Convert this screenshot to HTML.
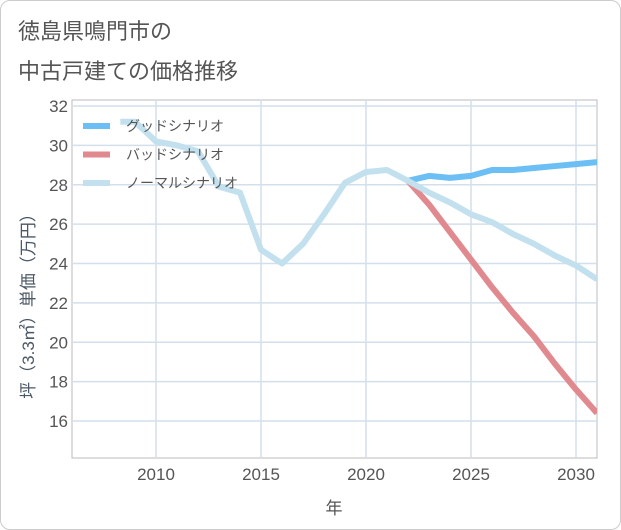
<!DOCTYPE html>
<html><head><meta charset="utf-8"><style>
body{margin:0;background:#fff;font-family:"Liberation Sans","Noto Sans CJK JP",sans-serif;}
#card{position:absolute;left:0;top:0;width:619px;height:528px;border:1px solid #ccc;border-radius:10px;background:#fff;}
#title{position:absolute;left:18px;top:12px;font-size:22px;line-height:40px;color:#555;}
</style></head><body>
<div id="card"></div>
<div id="title">徳島県鳴門市の<br>中古戸建ての価格推移</div>
<svg id="chart" width="621" height="530" style="position:absolute;left:0;top:0"></svg>
<script>
const years=[2008.3,2009,2010,2011,2012,2013,2014,2015,2016,2017,2018,2019,2020,2021,2022,2023,2024,2025,2026,2027,2028,2029,2030,2031];
const normal=[31.2,31.2,30.2,30.0,29.7,27.9,27.6,24.7,24.0,25.0,26.5,28.1,28.65,28.75,28.2,27.6,27.1,26.5,26.1,25.5,25.0,24.4,23.9,23.2];
const futureYears=[2022,2023,2024,2025,2026,2027,2028,2029,2030,2031];
const good=[28.2,28.45,28.35,28.45,28.75,28.75,28.85,28.95,29.05,29.15];
const bad=[28.2,27.0,25.6,24.2,22.8,21.5,20.3,18.9,17.6,16.4];
const yTicks=[16,18,20,22,24,26,28,30,32];
const xTicks=[2010,2015,2020,2025,2030];
const L=72,R=597,T=100,B=458;
const X=y=>156+(y-2010)*21;
const Y=v=>106+(32-v)*19.69;
const svg=document.getElementById('chart');
const NS='http://www.w3.org/2000/svg';
function mk(t,a){const e=document.createElementNS(NS,t);for(const k in a)e.setAttribute(k,a[k]);svg.appendChild(e);return e;}
let bg=mk('rect',{x:L,y:T,width:R-L,height:B-T,fill:'#fff',stroke:'#bbb'});


yTicks.forEach(v=>{
 let g=mk('line',{x1:L,x2:R,y1:Y(v),y2:Y(v),stroke:'#d3dfea','stroke-width':1.5});
 
 
 let t=mk('text',{x:L-4,y:Y(v)+6,'text-anchor':'end','font-size':17,fill:'#555'});
 t.textContent=v;
 
 
});
xTicks.forEach(v=>{
 let g=mk('line',{x1:X(v),x2:X(v),y1:T,y2:B,stroke:'#d3dfea','stroke-width':1.5});
 
 
 let t=mk('text',{x:X(v),y:B+22,'text-anchor':'middle','font-size':17,fill:'#555'});
 t.textContent=v;
 
 
});
const clip=mk('clipPath',{id:'cp'});
const cr=document.createElementNS(NS,'rect');cr.setAttribute('x',L);cr.setAttribute('y',T);cr.setAttribute('width',R-L);cr.setAttribute('height',B-T);clip.appendChild(cr);
function line(xs,vs,color,name){
 let p=mk('polyline',{points:xs.map((x,i)=>X(x)+','+Y(vs[i])).join(' '),fill:'none',stroke:color,'stroke-width':6,'stroke-linejoin':'round','clip-path':'url(#cp)'});
 
 
}
line(futureYears,good,'#6cbff5','good-scenario-line');
line(futureYears,bad,'#e08a8f','bad-scenario-line');
line(years,normal,'#c2e0ee','normal-scenario-line');
const leg=[['グッドシナリオ','#6cbff5'],['バッドシナリオ','#e08a8f'],['ノーマルシナリオ','#c2e0ee']];
leg.forEach((l,i)=>{
 let y=126+i*28.5;
 let s=mk('line',{x1:83,x2:110,y1:y,y2:y,stroke:l[1],'stroke-width':6});
 
 
 let t=mk('text',{x:126,y:y+5,'font-size':14,fill:'#555'});
 t.textContent=l[0];
 
 
});
let yt=mk('text',{x:0,y:0,'font-size':17,fill:'#4a5866','text-anchor':'middle',transform:'translate(34,302) rotate(-90)'});
yt.textContent='坪（3.3㎡）単価（万円）';


let xt=mk('text',{x:334,y:514,'font-size':17,fill:'#555','text-anchor':'middle'});
xt.textContent='年';


</script>
</body></html>
